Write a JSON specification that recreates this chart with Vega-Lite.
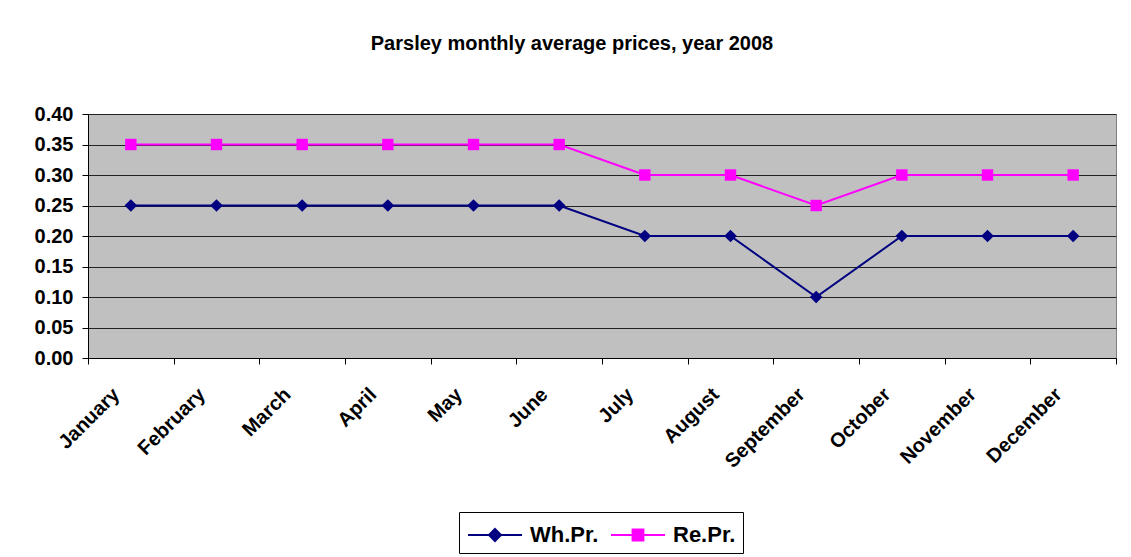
{
  "$schema": "https://vega.github.io/schema/vega-lite/v6.json",
  "autosize": {"type": "none"},
  "width": 1028,
  "height": 244,
  "padding": {"left": 88, "top": 114, "right": 15, "bottom": 199},
  "background": "white",
  "title": {
    "text": "Parsley monthly average prices, year 2008",
    "font": "Liberation Sans",
    "fontSize": 20,
    "fontWeight": "bold",
    "color": "black",
    "anchor": "middle",
    "dx": -30,
    "offset": 50
  },
  "config": {
    "view": {"fill": "#C0C0C0", "stroke": "#808080", "strokeWidth": 1}
  },
  "data": {
    "values": [
      {"month": "January", "series": "Wh.Pr.", "price": 0.25},
      {"month": "February", "series": "Wh.Pr.", "price": 0.25},
      {"month": "March", "series": "Wh.Pr.", "price": 0.25},
      {"month": "April", "series": "Wh.Pr.", "price": 0.25},
      {"month": "May", "series": "Wh.Pr.", "price": 0.25},
      {"month": "June", "series": "Wh.Pr.", "price": 0.25},
      {"month": "July", "series": "Wh.Pr.", "price": 0.20},
      {"month": "August", "series": "Wh.Pr.", "price": 0.20},
      {"month": "September", "series": "Wh.Pr.", "price": 0.10},
      {"month": "October", "series": "Wh.Pr.", "price": 0.20},
      {"month": "November", "series": "Wh.Pr.", "price": 0.20},
      {"month": "December", "series": "Wh.Pr.", "price": 0.20},
      {"month": "January", "series": "Re.Pr.", "price": 0.35},
      {"month": "February", "series": "Re.Pr.", "price": 0.35},
      {"month": "March", "series": "Re.Pr.", "price": 0.35},
      {"month": "April", "series": "Re.Pr.", "price": 0.35},
      {"month": "May", "series": "Re.Pr.", "price": 0.35},
      {"month": "June", "series": "Re.Pr.", "price": 0.35},
      {"month": "July", "series": "Re.Pr.", "price": 0.30},
      {"month": "August", "series": "Re.Pr.", "price": 0.30},
      {"month": "September", "series": "Re.Pr.", "price": 0.25},
      {"month": "October", "series": "Re.Pr.", "price": 0.30},
      {"month": "November", "series": "Re.Pr.", "price": 0.30},
      {"month": "December", "series": "Re.Pr.", "price": 0.30}
    ]
  },
  "encoding": {
    "x": {
      "field": "month",
      "type": "ordinal",
      "sort": ["January","February","March","April","May","June","July","August","September","October","November","December"],
      "scale": {"type": "band", "paddingInner": 0, "paddingOuter": 0},
      "axis": {
        "title": null,
        "tickBand": "extent",
        "domainColor": "black",
        "domainWidth": 1,
        "tickColor": "black",
        "tickSize": 6,
        "labelAngle": -45,
        "labelAlign": "right",
        "labelBaseline": "top",
        "labelOffset": -22,
        "labelPadding": 20,
        "labelFont": "Liberation Sans",
        "labelFontSize": 20,
        "labelFontWeight": "bold",
        "labelColor": "black",
        "grid": false
      }
    },
    "y": {
      "field": "price",
      "type": "quantitative",
      "scale": {"domain": [0, 0.4], "nice": false},
      "axis": {
        "title": null,
        "values": [0, 0.05, 0.1, 0.15, 0.2, 0.25, 0.3, 0.35, 0.4],
        "format": ".2f",
        "domainColor": "black",
        "tickColor": "black",
        "tickSize": 6,
        "labelPadding": 9,
        "labelFont": "Liberation Sans",
        "labelFontSize": 20,
        "labelFontWeight": "bold",
        "labelColor": "black",
        "grid": true,
        "gridColor": "#222222",
        "gridWidth": 1,
        "gridOpacity": 1
      }
    },
    "color": {
      "field": "series",
      "type": "nominal",
      "scale": {"domain": ["Wh.Pr.", "Re.Pr."], "range": ["#000080", "#FF00FF"]},
      "legend": {
        "title": null,
        "orient": "none",
        "legendX": 371,
        "legendY": 398,
        "direction": "horizontal",
        "strokeColor": "black",
        "fillColor": "white",
        "padding": 7,
        "symbolType": "M-1.8,0H1.8M-0.36,-0.36H0.36V0.36H-0.36Z",
        "symbolSize": 900,
        "symbolStrokeWidth": 2,
        "labelFont": "Liberation Sans",
        "labelFontSize": 22,
        "labelFontWeight": "bold",
        "labelColor": "black",
        "labelOffset": 19,
        "columnPadding": 8,
        "symbolOffset": 13,
        "encode": {
          "symbols": {
            "update": {
              "shape": {"signal": "datum.value === 'Wh.Pr.' ? 'M-1.8,0H1.8M0,-0.4L0.4,0L0,0.4L-0.4,0Z' : 'M-1.8,0H1.8M-0.36,-0.36H0.36V0.36H-0.36Z'"},
              "fill": {"signal": "datum.value === 'Wh.Pr.' ? '#000080' : '#FF00FF'"},
              "stroke": {"signal": "datum.value === 'Wh.Pr.' ? '#000080' : '#FF00FF'"},
              "strokeWidth": {"value": 2},
              "opacity": {"value": 1}
            }
          }
        }
      }
    }
  },
  "layer": [
    {
      "mark": {"type": "line", "strokeWidth": 2},
      "encoding": {}
    },
    {
      "transform": [{"filter": "datum.series === 'Wh.Pr.'"}],
      "mark": {"type": "point", "shape": "diamond", "filled": true, "opacity": 1, "size": 160},
      "encoding": {}
    },
    {
      "transform": [{"filter": "datum.series === 'Re.Pr.'"}],
      "mark": {"type": "point", "shape": "square", "filled": true, "opacity": 1, "size": 130},
      "encoding": {}
    }
  ]
}
